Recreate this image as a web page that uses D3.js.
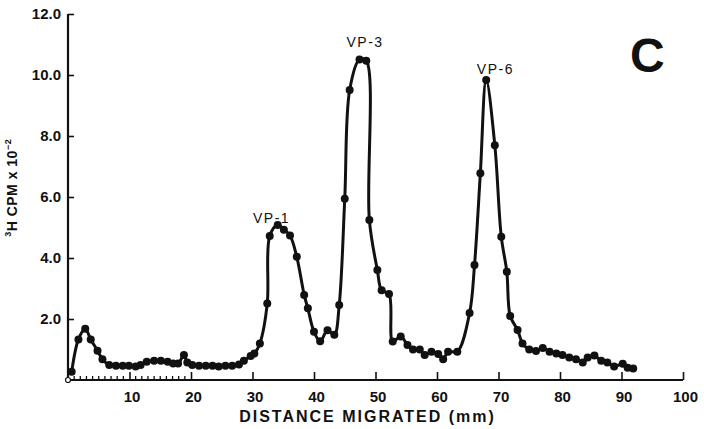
<!DOCTYPE html>
<html>
<head>
<meta charset="utf-8">
<script src="https://cdn.jsdelivr.net/npm/d3@7"></script>
<style>
  body { margin: 0; background: #fff; }
  text { font-family: "Liberation Sans", Arial, sans-serif; fill: #111; }
</style>
</head>
<body>
<script>
// distance migrated (mm) and 3H CPM x 10^-2
var distance = [0.6, 1.7, 2.8, 3.7, 4.8, 5.6, 6.7, 7.8, 8.9, 9.9, 11.0, 11.8, 12.8, 14.0, 15.1, 16.2, 17.1, 17.9, 18.85, 19.4,
  20.2, 21.3, 22.4, 23.5, 24.5, 25.6, 26.7, 27.8, 28.6, 29.7, 30.3, 31.2, 32.4, 32.8, 34.1, 35.1, 36.1, 37.2, 38.4, 39.0,
  40.0, 41.0, 42.2, 43.3, 44.1, 45.0, 45.8, 47.4, 48.5, 49.0, 50.3, 51.0, 52.2, 52.8, 54.1, 55.2, 56.1, 57.2, 58.0, 59.1,
  60.2, 61.0, 61.8, 63.3, 65.3, 66.1, 67.05, 68.0, 69.4, 70.45, 71.35, 71.9, 73.1, 73.9, 75.0, 76.1, 77.2, 78.3, 79.4, 80.4,
  81.5, 82.6, 83.7, 84.5, 85.6, 86.7, 87.7, 88.8, 90.2, 91.0, 91.9];
var cpm = [0.27, 1.33, 1.68, 1.33, 0.96, 0.68, 0.49, 0.47, 0.47, 0.47, 0.44, 0.49, 0.6, 0.63, 0.63, 0.6, 0.54, 0.54, 0.82, 0.57,
  0.49, 0.47, 0.47, 0.47, 0.44, 0.47, 0.47, 0.51, 0.63, 0.79, 0.87, 1.2, 2.51, 4.72, 5.08, 4.93, 4.74, 4.04, 2.79, 2.35,
  1.58, 1.27, 1.63, 1.48, 2.46, 5.94, 9.51, 10.51, 10.47, 5.25, 3.61, 2.94, 2.82, 1.26, 1.43, 1.15, 1.0, 1.0, 0.82, 0.93,
  0.85, 0.68, 0.93, 0.93, 2.2, 3.77, 6.78, 9.84, 7.7, 4.7, 3.55, 2.1, 1.64, 1.2, 1.0, 0.95, 1.05, 0.93, 0.87, 0.82,
  0.74, 0.68, 0.57, 0.74, 0.8, 0.63, 0.57, 0.44, 0.53, 0.4, 0.38];

var xTicks = [10, 20, 30, 40, 50, 60, 70, 80, 90, 100];
var yTicks = [2, 4, 6, 8, 10, 12];
var peaks = ["VP-1", "VP-3", "VP-6"];
var peakX = [33.1, 48.3, 69.5];
var peakY = [5.15, 10.92, 10.03];

var W = 704, H = 429;
var margin = {top: 14, right: 21, bottom: 49, left: 68},
    width = W - margin.left - margin.right,
    height = H - margin.top - margin.bottom;

var x = d3.scaleLinear().domain([0, 100]).range([0, width]);
var y = d3.scaleLinear().domain([0, 12]).range([height, 0]);

var svg = d3.select("body").append("svg")
    .attr("width", W)
    .attr("height", H)
  .append("g")
    .attr("transform", "translate(" + margin.left + "," + margin.top + ")");

// x axis, ticks pointing up into the plot
var gx = svg.append("g")
    .attr("transform", "translate(0," + height + ")")
    .call(d3.axisBottom(x).tickValues(xTicks).tickSize(-8).tickPadding(11)
      .tickFormat(d3.format("d")));
gx.select(".domain").attr("stroke-width", 2.2).attr("d", "M0,0H" + width);
gx.selectAll(".tick line").attr("stroke-width", 1.6);
gx.selectAll("text").style("font-size", "15px").style("font-weight", "bold").attr("dx", 2);

// small mm ticks at the start of the axis
svg.append("g").selectAll("line")
  .data(d3.range(1, 20).filter(function(d) { return d % 10 !== 0; }))
  .enter().append("line")
    .attr("x1", function(d) { return x(d); })
    .attr("x2", function(d) { return x(d); })
    .attr("y1", height)
    .attr("y2", height - 4)
    .attr("stroke", "#111")
    .attr("stroke-width", 1.3);

// y axis, ticks pointing right
var gy = svg.append("g")
    .call(d3.axisLeft(y).tickValues(yTicks).tickSize(-6).tickPadding(7)
      .tickFormat(d3.format(".1f")));
gy.select(".domain").attr("stroke-width", 2.2).attr("d", "M0,0V" + height);
gy.selectAll(".tick line").attr("stroke-width", 1.6);
gy.selectAll("text").style("font-size", "15px").style("font-weight", "bold");

svg.selectAll("path.domain, .tick line").attr("stroke", "#111");

// open circle at the origin
svg.append("circle")
  .attr("cx", x(0)).attr("cy", y(0)).attr("r", 2.5)
  .attr("fill", "#fff").attr("stroke", "#111").attr("stroke-width", 1.2);

var pts = distance.map(function(d, i) { return [d, cpm[i]]; });

var line = d3.line()
    .x(function(d) { return x(d[0]); })
    .y(function(d) { return y(d[1]); })
    .curve(d3.curveCatmullRom.alpha(0.5));

svg.append("path")
  .datum(pts)
  .attr("fill", "none")
  .attr("stroke", "#111")
  .attr("stroke-width", 3)
  .attr("stroke-linejoin", "round")
  .attr("d", line);

svg.selectAll("circle.pt")
  .data(pts)
  .enter().append("circle")
    .attr("class", "pt")
    .attr("cx", function(d) { return x(d[0]); })
    .attr("cy", function(d) { return y(d[1]); })
    .attr("r", 4)
    .attr("fill", "#111");

// peak labels
svg.selectAll("text.peak")
  .data(peaks)
  .enter().append("text")
    .attr("class", "peak")
    .attr("x", function(d, i) { return x(peakX[i]); })
    .attr("y", function(d, i) { return y(peakY[i]); })
    .attr("text-anchor", "middle")
    .style("font-size", "14px")
    .style("letter-spacing", "1.5px")
    .text(function(d) { return d; });

// axis titles
svg.append("text")
  .attr("x", x(48.7))
  .attr("y", height + 42)
  .attr("text-anchor", "middle")
  .style("font-size", "16px")
  .style("font-weight", "bold")
  .style("letter-spacing", "2px")
  .text("DISTANCE MIGRATED (mm)");

var yl = svg.append("text")
  .attr("transform", "translate(" + (-51) + "," + (y(6.3)) + ") rotate(-90)")
  .attr("text-anchor", "middle")
  .style("font-size", "14px")
  .style("font-weight", "bold")
  .style("letter-spacing", "0.5px");
yl.append("tspan").attr("dy", "-6").style("font-size", "9px").text("3");
yl.append("tspan").attr("dy", "6").text("H CPM x 10");
yl.append("tspan").attr("dy", "-6").style("font-size", "9px").text("\u22122");

// panel letter
svg.append("text")
  .attr("x", x(94.2))
  .attr("y", y(10.1))
  .attr("text-anchor", "middle")
  .style("font-size", "48px")
  .style("font-weight", "bold")
  .text("C");
</script>
</body>
</html>
